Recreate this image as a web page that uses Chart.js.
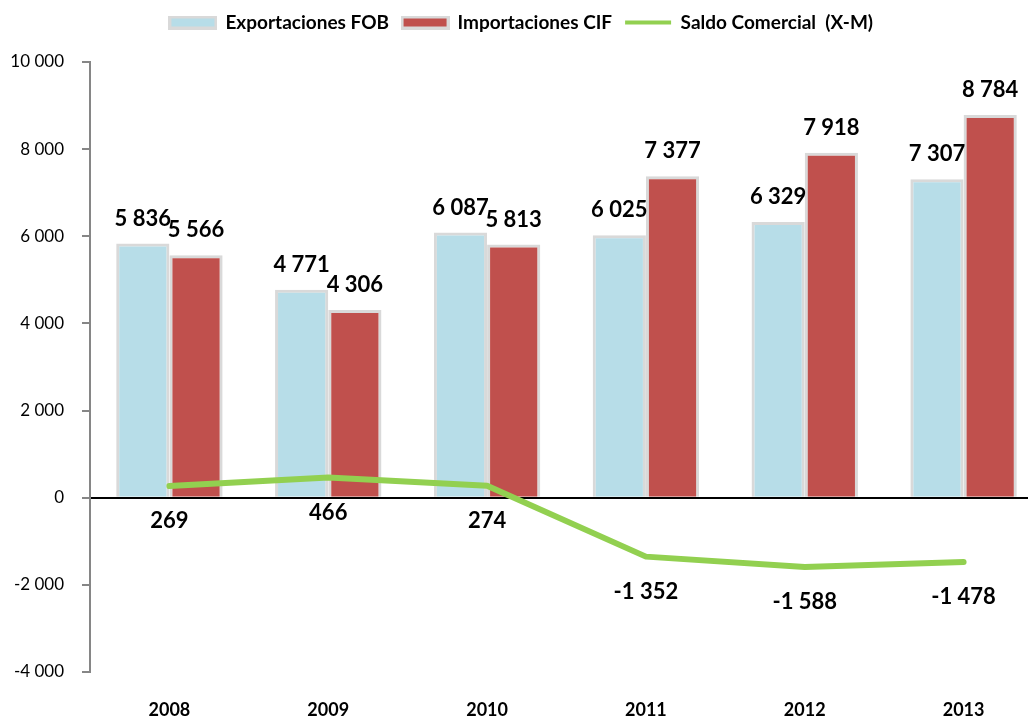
<!DOCTYPE html>
<html>
<head>
<meta charset="utf-8">
<script src="https://cdn.jsdelivr.net/npm/chart.js@4.4.0/dist/chart.umd.min.js"></script>
<style>
  body { margin: 0; background: #fff; overflow: hidden; }
  #wrap { width: 1046px; height: 720px; }
</style>
</head>
<body>
<div id="wrap"><canvas id="chart" width="1046" height="720"></canvas></div>
<script>
// datos del grafico
var years = ['2008', '2009', '2010', '2011', '2012', '2013'];
var exportaciones = [5836, 4771, 6087, 6025, 6329, 7307];
var importaciones = [5566, 4306, 5813, 7377, 7918, 8784];
var saldo = [269, 466, 274, -1352, -1588, -1478];
var yTicks = [-4000, -2000, 0, 2000, 4000, 6000, 8000, 10000];

function fmt(v) {
    return v.toString().replace(/\B(?=(\d{3})+(?!\d))/g, ' ');
}

// little boxes for the legend
function legendBox(fill) {
    var c = document.createElement('canvas');
    c.width = 49; c.height = 14;
    var x = c.getContext('2d');
    x.fillStyle = '#d9d9d9';
    x.fillRect(0, 0, 49, 14);
    x.fillStyle = fill;
    x.fillRect(3, 3, 43, 8);
    return c;
}

var valueLabels = {
    id: 'valueLabels',
    afterDatasetsDraw(chart) {
        var ctx = chart.ctx;
        ctx.save();
        ctx.fillStyle = '#000';
        ctx.font = 'bold 22px Lato';
        ctx.textAlign = 'center';
        ctx.textBaseline = 'middle';
        chart.data.datasets.forEach(function (ds, i) {
            var meta = chart.getDatasetMeta(i);
            meta.data.forEach(function (el, j) {
                var v = ds.data[j];
                if (ds.type === 'line') {
                    ctx.fillText(fmt(v), el.x, el.y + 35);
                } else {
                    ctx.fillText(fmt(v), el.x, el.y - 25);
                }
            });
        });
        ctx.restore();
    }
};

// fixed legend height so the plot starts at the same place as the original
var legendHeight = {
    id: 'legendHeight',
    afterInit(chart) {
        var fit = chart.legend.fit;
        chart.legend.fit = function () {
            fit.bind(chart.legend)();
            this.height = 62;
        };
    }
};

var ctx = document.getElementById('chart').getContext('2d');
var myChart = new Chart(ctx, {
    type: 'bar',
    data: {
        labels: years,
        datasets: [{
            label: 'Exportaciones FOB',
            data: exportaciones,
            backgroundColor: '#b7dde8',
            borderColor: '#d9d9d9',
            borderWidth: {top: 3, left: 3, right: 3, bottom: 0},
            borderSkipped: false,
            categoryPercentage: 0.67,
            barPercentage: 1,
            order: 1
        }, {
            label: 'Importaciones CIF',
            data: importaciones,
            backgroundColor: '#c0504d',
            borderColor: '#d9d9d9',
            borderWidth: {top: 3, left: 3, right: 3, bottom: 0},
            borderSkipped: false,
            categoryPercentage: 0.67,
            barPercentage: 1,
            order: 2
        }, {
            type: 'line',
            label: 'Saldo Comercial  (X-M)',
            data: saldo,
            borderColor: '#92d050',
            backgroundColor: '#92d050',
            borderWidth: 6,
            borderCapStyle: 'round',
            borderJoinStyle: 'round',
            pointRadius: 0,
            tension: 0,
            order: 0
        }]
    },
    options: {
        responsive: false,
        animation: false,
        layout: { padding: { top: 0, right: 3, left: 0, bottom: 0 } },
        plugins: {
            tooltip: { enabled: false },
            legend: {
                position: 'top',
                labels: {
                    color: '#000',
                    font: { family: 'Lato', size: 19, weight: 'bold' },
                    usePointStyle: true,
                    pointStyleWidth: 46,
                    padding: 13,
                    sort: function (a, b) { return a.datasetIndex - b.datasetIndex; },
                    generateLabels: function (chart) {
                        var items = Chart.defaults.plugins.legend.labels.generateLabels(chart);
                        items.forEach(function (it) {
                            if (it.datasetIndex === 0) it.pointStyle = legendBox('#b7dde8');
                            else if (it.datasetIndex === 1) it.pointStyle = legendBox('#c0504d');
                            else { it.pointStyle = 'line'; it.lineWidth = 4; it.strokeStyle = '#92d050'; }
                        });
                        return items;
                    }
                }
            }
        },
        scales: {
            x: {
                afterFit: function (s) { s.height = 48; },
                grid: { display: false, drawTicks: false },
                border: { display: false },
                ticks: {
                    color: '#000',
                    padding: 27,
                    font: { family: 'Lato', size: 18, weight: 'bold' }
                }
            },
            y: {
                min: -4000,
                max: 10000,
                afterFit: function (s) { s.width = 90; },
                afterBuildTicks: function (s) {
                    s.ticks = yTicks.map(function (v) { return { value: v }; });
                },
                border: { display: true, color: '#868686', width: 2 },
                grid: {
                    drawOnChartArea: true,
                    tickLength: 8,
                    tickColor: '#868686',
                    tickWidth: 2,
                    color: function (c) { return c.tick && c.tick.value === 0 ? '#000' : 'rgba(0,0,0,0)'; },
                    lineWidth: 2
                },
                ticks: {
                    color: '#000',
                    padding: 18,
                    font: { family: 'Lato', size: 17 },
                    callback: function (v) { return fmt(v); }
                }
            }
        }
    },
    plugins: [valueLabels, legendHeight]
});
</script>
</body>
</html>
